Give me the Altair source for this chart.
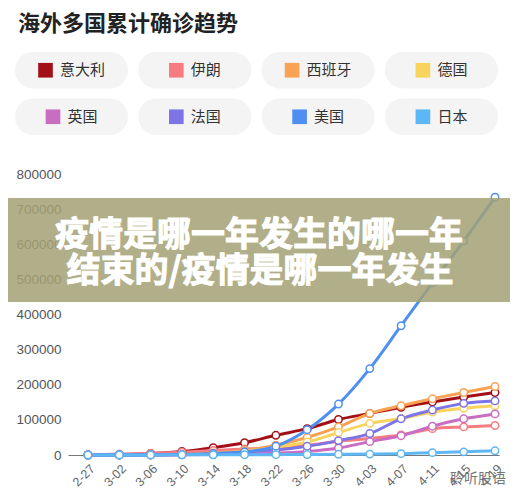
import altair as alt
import pandas as pd

TITLE = "海外多国累计确诊趋势"
BANNER = ["疫情是哪一年发生的哪一年", "结束的/疫情是哪一年发生"]
WATERMARK = "聆听股语"

dates = ["2020-02-27", "2020-03-02", "2020-03-06", "2020-03-10", "2020-03-14",
         "2020-03-18", "2020-03-22", "2020-03-26", "2020-03-30", "2020-04-03",
         "2020-04-07", "2020-04-11", "2020-04-15", "2020-04-19"]

countries = ["意大利", "伊朗", "西班牙", "德国", "英国", "法国", "美国", "日本"]
colors = ["#a30f17", "#f77c80", "#f9a253", "#f8d35e", "#c96dc3", "#7d74e6", "#4f8ff2", "#5db7f5"]
legend_col = [0, 1, 2, 3, 0, 1, 2, 3]
legend_row = [0, 0, 0, 0, 1, 1, 1, 1]

italy = [650, 2000, 4600, 10000, 21000, 35000, 56000, 75000, 101000, 118000, 136000, 151000, 165000, 178000]
iran = [250, 1500, 4700, 8000, 12700, 17000, 21000, 28000, 39000, 47000, 57000, 75000, 80000, 84000]
spain = [30, 120, 400, 1700, 6000, 13000, 28000, 50000, 80000, 118000, 140000, 160000, 178000, 195000]
germany = [50, 150, 700, 1500, 4000, 10000, 22000, 37000, 64000, 90000, 104000, 122000, 133000, 140000]
uk = [15, 40, 160, 380, 1100, 2600, 5000, 10000, 20000, 38000, 55000, 82000, 103000, 117000]
france = [40, 190, 650, 1800, 4500, 9000, 14000, 25000, 41000, 61000, 103000, 128000, 147000, 154000]
usa = [60, 100, 300, 1000, 2700, 9000, 25000, 72000, 145000, 246000, 368000, 490000, 609000, 734000]
japan = [200, 250, 350, 550, 770, 870, 1050, 1300, 1900, 2600, 3900, 6700, 9000, 12000]

series = [italy, iran, spain, germany, uk, france, usa, japan]

rows = []
for c, vals in zip(countries, series):
    for d, v in zip(dates, vals):
        rows.append({"date": d, "country": c, "value": v})
df = pd.DataFrame(rows)
leg = pd.DataFrame({"country": countries, "col": legend_col, "row": legend_row})
one = pd.DataFrame({"k": [0]})

FONT = "Noto Sans CJK SC"
W, H = 431, 281
CELL = 123.3
ROWSTEP = 46.5

cscale = alt.Scale(domain=countries, range=colors)
lx = alt.Scale(domain=[0, 3], range=[3.5, 3.5 + 3 * CELL])
ly = alt.Scale(domain=[0, 1], range=[-103.75, -57.25])


def dt(s, **kw):
    y, m, d = s.split("-")
    return alt.DateTime(year=int(y), month=int(m), date=int(d), utc=True, **kw)


xscale = alt.Scale(type="utc", domain=[dt("2020-02-24", hours=10, minutes=40),
                                       dt("2020-04-19", hours=12, minutes=15)])
yscale = alt.Scale(domain=[0, 800000], nice=False, zero=True)

xaxis = alt.Axis(values=[dt(s) for s in dates], format="%-m-%d", labelAngle=315,
                 labelFont="Liberation Sans", labelFontSize=12.5, labelColor="#666",
                 ticks=False, domainColor="#777", grid=False, title=None,
                 labelPadding=7, labelOverlap=False)
yaxis = alt.Axis(values=list(range(0, 800001, 100000)), format="d",
                 labelFont="Liberation Sans", labelFontSize=13.5, labelColor="#555",
                 ticks=False, domain=False, gridColor="#e4e4e4", title=None,
                 labelPadding=7)

# invisible frame that fixes the drawing's bounds
frame = alt.Chart(one).mark_rect(fill="white", opacity=0).encode(
    x=alt.value(-68), x2=alt.value(450), y=alt.value(-174), y2=alt.value(322))

title = alt.Chart(one).mark_text(
    text=TITLE, font=FONT, fontSize=22, fontWeight="bold", color="#222",
    align="left", baseline="alphabetic").encode(x=alt.value(-50), y=alt.value(-143))

chips = alt.Chart(leg).transform_calculate(
    x_lo=f"datum.col - {56.5 / CELL}", x_hi=f"datum.col + {56.5 / CELL}",
    y_lo=f"datum.row - {18.25 / ROWSTEP}", y_hi=f"datum.row + {18.25 / ROWSTEP}"
).mark_rect(cornerRadius=18, fill="#f4f4f4").encode(
    x=alt.X("x_lo:Q", scale=lx, axis=None), x2="x_hi:Q",
    y=alt.Y("y_lo:Q", scale=ly, axis=None), y2="y_hi:Q")

swatches = alt.Chart(leg).transform_calculate(
    sx=f"datum.col + (-(22 + 15 * length(datum.country)) / 2 + 7.5) / {CELL}"
).mark_square(size=215, opacity=1).encode(
    x=alt.X("sx:Q", scale=lx, axis=None),
    y=alt.Y("row:Q", scale=ly, axis=None),
    color=alt.Color("country:N", scale=cscale, legend=None))

labels = alt.Chart(leg).transform_calculate(
    tx=f"datum.col + (-(22 + 15 * length(datum.country)) / 2 + 22) / {CELL}"
).mark_text(font=FONT, fontSize=15, color="#333", align="left", baseline="middle").encode(
    x=alt.X("tx:Q", scale=lx, axis=None),
    y=alt.Y("row:Q", scale=ly, axis=None),
    text="country:N")

lines = alt.Chart(df).mark_line(interpolate="monotone", strokeWidth=3).encode(
    x=alt.X("date:T", scale=xscale, axis=xaxis),
    y=alt.Y("value:Q", scale=yscale, axis=yaxis),
    color=alt.Color("country:N", scale=cscale, legend=None))

points = alt.Chart(df).mark_point(shape="circle", filled=False, fill="white", size=55,
                                  strokeWidth=1.5, opacity=1).encode(
    x=alt.X("date:T", scale=xscale, axis=None),
    y=alt.Y("value:Q", scale=yscale, axis=None),
    color=alt.Color("country:N", scale=cscale, legend=None))

banner = alt.Chart(one).mark_rect(fill="#a3a174", opacity=0.85).encode(
    x=alt.value(-68), x2=alt.value(450), y=alt.value(24), y2=alt.value(128))

b1 = alt.Chart(one).mark_text(text=BANNER[0], font=FONT, fontSize=34, fontWeight="bold",
                              color="white", stroke="white", strokeWidth=1,
                              align="center", baseline="alphabetic").encode(
    x=alt.value(191), y=alt.value(71.5))
b2 = alt.Chart(one).mark_text(text=BANNER[1], font=FONT, fontSize=34, fontWeight="bold",
                              color="white", stroke="white", strokeWidth=1,
                              align="center", baseline="alphabetic").encode(
    x=alt.value(192), y=alt.value(107.5))

wm = alt.Chart(one).mark_text(text=WATERMARK, font=FONT, fontSize=14, color="#777",
                              align="left", baseline="alphabetic").encode(
    x=alt.value(382), y=alt.value(309))

chart = alt.layer(frame, title, chips, swatches, labels, lines, points, banner, b1, b2, wm).resolve_scale(
    x="independent", y="independent"
).properties(
    width=W, height=H,
    padding={"left": -8, "top": -8, "right": -8, "bottom": -8},
    background="white"
).configure_view(stroke=None)

chart.save("out.html", embed_options={"renderer": "svg", "actions": False})
